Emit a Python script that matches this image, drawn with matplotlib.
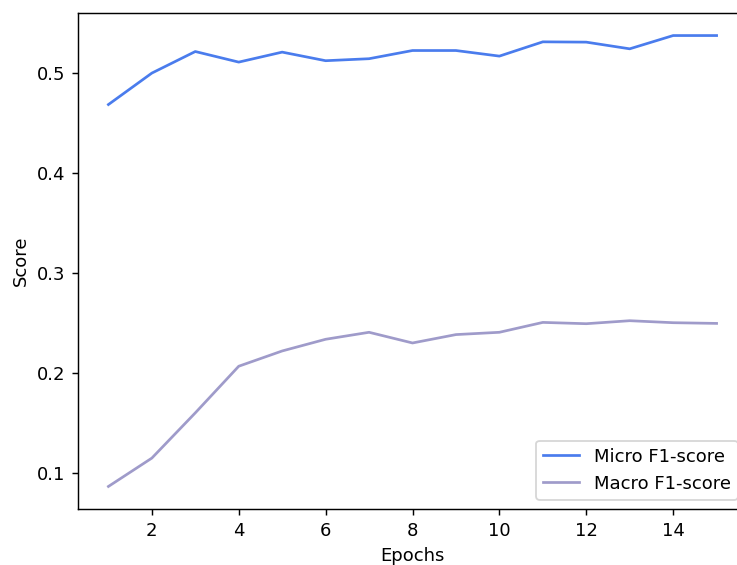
import matplotlib
matplotlib.use("Agg")
import matplotlib.pyplot as plt

epochs = list(range(1, 16))
micro_f1 = [0.4688, 0.5003, 0.5219, 0.5113, 0.5213, 0.5127, 0.5147, 0.5229,
            0.5229, 0.5173, 0.5316, 0.5313, 0.5246, 0.5379, 0.5379]
macro_f1 = [0.0863, 0.1147, 0.1600, 0.2067, 0.2220, 0.2337, 0.2407, 0.2300,
            0.2384, 0.2407, 0.2506, 0.2493, 0.2523, 0.2503, 0.2496]

DPI = 130
W, H = 737, 565
fig = plt.figure(figsize=(W / DPI, H / DPI), dpi=DPI)
ax = fig.add_axes([78 / W, (H - 509) / H, (747 - 78) / W, (509 - 13) / H])
ax.plot(epochs, micro_f1, color='#4a7ced', label='Micro F1-score')
ax.plot(epochs, macro_f1, color='#9f9bca', label='Macro F1-score')
ax.set_xlabel('Epochs')
ax.set_ylabel('Score')
ax.legend(loc='lower right')
fig.savefig('out.png', dpi=DPI)
